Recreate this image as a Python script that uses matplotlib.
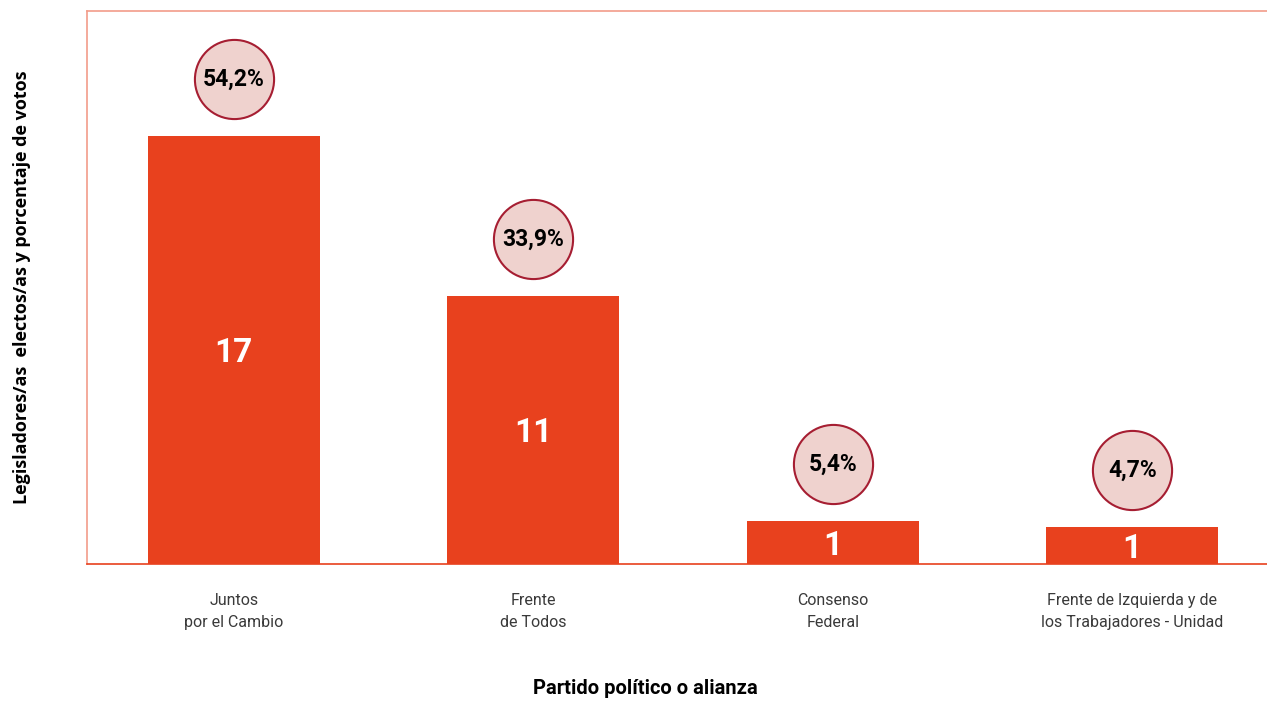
import numpy as np
from matplotlib import pyplot as plt

partidos = ["Juntos\npor el Cambio", "Frente\nde Todos", "Consenso\nFederal",
            "Frente de Izquierda y de\nlos Trabajadores - Unidad"]
votos = [54.2, 33.9, 5.4, 4.7]          # porcentaje de votos (altura de barra)
legisladores = [17, 11, 1, 1]           # legisladores/as electos/as
etiquetas_pct = ["54,2%", "33,9%", "5,4%", "4,7%"]

rojo = "#e8411e"
salmon = "#f29c8a"
bordo = "#a61e32"
rosa = "#efd2ce"
num_font = ["Roboto", "DejaVu Sans"]

fig = plt.figure(figsize=(12.67, 7.01), dpi=100)
ax = fig.add_axes([87 / 1267, 1 - 564 / 701, 1 - 87 / 1267, 553 / 701])

x = np.arange(len(partidos))
ax.bar(x, votos, width=0.574, color=rojo, zorder=2)

ax.set_ylim(0, 70)
ax.set_xlim(-0.49, 3.45)

for xi, v, n, p in zip(x, votos, legisladores, etiquetas_pct):
    ax.text(xi, v / 2 - 0.4, str(n), ha="center", va="center", color="white",
            fontsize=24, fontweight="bold", family=num_font, zorder=3)
    yc = v + 7.2
    ax.plot(xi, yc, marker="o", markersize=57, markerfacecolor=rosa,
            markeredgecolor=bordo, markeredgewidth=1.5, zorder=3, clip_on=False)
    ax.text(xi, yc, p, ha="center", va="center", color="black",
            fontsize=16.5, fontweight="bold", family=num_font, zorder=4)

ax.set_xticks(x)
ax.set_xticklabels(partidos, fontsize=11.5, color="#3a3a3a", family="Roboto",
                   linespacing=1.55)
ax.tick_params(axis="x", length=0, pad=21)
ax.set_yticks([])

ax.spines["right"].set_visible(False)
ax.spines["left"].set_color(salmon)
ax.spines["top"].set_color(salmon)
ax.spines["bottom"].set_color(rojo)
for s in ["left", "top", "bottom"]:
    ax.spines[s].set_linewidth(1.2)

fig.text(645 / 1267, 1 - 689 / 701, "Partido político o alianza",
         ha="center", va="center", fontsize=14.5, fontweight="bold",
         family=num_font)
fig.text(22 / 1267, 1 - 287 / 701, "Legisladores/as  electos/as y porcentaje de votos",
         rotation=90, ha="center", va="center", fontsize=13, fontweight="bold",
         family="Open Sans")

fig.savefig("out.png", dpi=100)
